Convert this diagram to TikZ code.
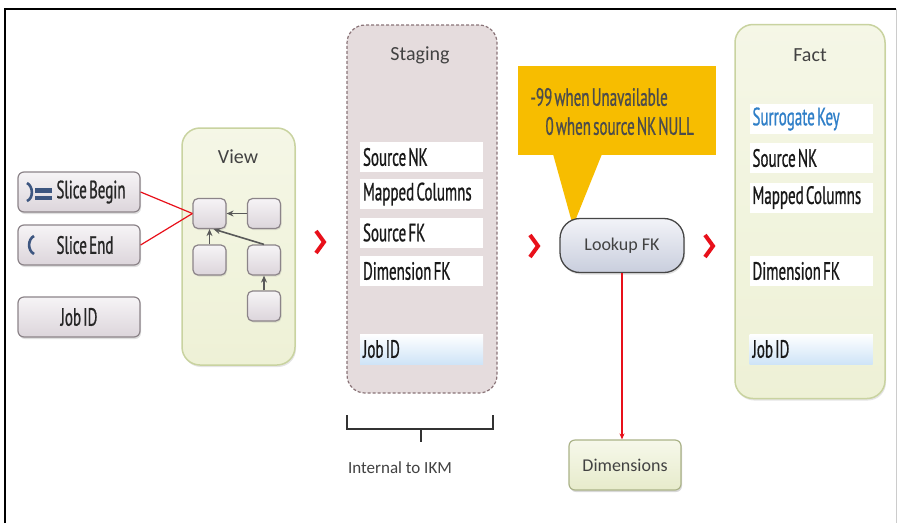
\documentclass[tikz,border=0pt]{standalone}
\usepackage{fontspec}
\setmainfont{Carlito}
\newfontfamily\cond[FakeStretch=0.6,FakeBold=0.8,WordSpace=0.55]{PT Sans}
\newcommand\rtx[1]{\mbox{\spaceskip=0pt\relax #1}}
\usetikzlibrary{shadows,arrows.meta}
\definecolor{keyborder}{HTML}{8C8489}
\definecolor{keytop}{HTML}{F6F4F6}
\definecolor{keybot}{HTML}{DCD5DB}
\definecolor{greenfill}{HTML}{EEF1D6}
\definecolor{greenborder}{HTML}{C9D3A0}
\definecolor{stagefill}{HTML}{E5DCDD}
\definecolor{stageborder}{HTML}{8A7478}
\definecolor{calloutc}{HTML}{F7BD00}
\definecolor{chevred}{HTML}{E8101A}
\definecolor{iconblue}{HTML}{3D5680}
\definecolor{titlegray}{HTML}{424242}
\definecolor{rowblue}{HTML}{CFE4F7}
\definecolor{linkblue}{HTML}{2F7FC8}
\definecolor{pilltop}{HTML}{F2F3F8}
\definecolor{pillbot}{HTML}{C9CEDD}
\tikzset{
  keybox/.style={draw=keyborder, line width=1.2pt, rounded corners=6pt,
    top color=keytop, bottom color=keybot,
    drop shadow={shadow xshift=1pt, shadow yshift=-2pt, opacity=0.25},
    minimum width=122pt, minimum height=40pt, font=\cond\fontsize{25}{26}\selectfont, text=black!85},
  minibox/.style={draw=keyborder, line width=1.2pt, rounded corners=5pt,
    top color=keytop, bottom color=keybot,
    drop shadow={shadow xshift=1pt, shadow yshift=-1.5pt, opacity=0.2},
    minimum width=33pt, minimum height=30pt},
  greenpanel/.style={draw=greenborder, line width=1.5pt, rounded corners=18pt,
    top color=greenfill!60!white, bottom color=greenfill,
    drop shadow={shadow xshift=1pt, shadow yshift=-2pt, opacity=0.2}},
  stagepanel/.style={draw=stageborder, densely dashed, line width=1.2pt,
    rounded corners=18pt, fill=stagefill},
  rowbox/.style={fill=white, minimum height=30pt, text width=117pt, align=left,
    inner xsep=3pt, font=\cond\fontsize{25}{26}\selectfont, text=black!90},
  bluerow/.style={rowbox, top color=white, bottom color=rowblue},
  title/.style={font=\fontsize{20}{22}\selectfont, text=titlegray},
  chev/.style={draw=chevred, line width=4pt, line join=miter, line cap=butt},
  redline/.style={draw=chevred, line width=1.2pt},
  grayarrow/.style={draw=gray!70!black, line width=1.6pt, -{Stealth[length=7pt,width=6pt]}},
  callouttext/.style={font=\cond\fontsize{25}{26}\selectfont, text=black!70, anchor=west},
}
\begin{document}
\begin{tikzpicture}[x=1pt, y=-1pt]
\useasboundingbox (0,0) rectangle (901,523);
\fill[white] (0,0) rectangle (901,523);
% frame
\draw[black, line width=1.6pt] (5,523) -- (5,9) -- (896,9);
\draw[gray!40, line width=1pt] (896,9) -- (896,523);

% left key boxes
\node[keybox] (sb) at (79,192) {\hspace{24pt}Slice Begin};
\node[keybox] (se) at (79,245) {\hspace{12pt}Slice End};
\node[keybox] (job) at (79,317) {Job ID};
% icons
\draw[iconblue, line width=2.6pt] (27,183) .. controls (33,186) and (34,198) .. (27,201);
\fill[iconblue] (35,188) rectangle (52,192.5);
\fill[iconblue] (35,195.5) rectangle (52,200);
\draw[iconblue, line width=2.6pt] (34,236) .. controls (28,239) and (27,250) .. (34,254);

% View panel
\node[greenpanel, minimum width=113pt, minimum height=237pt] (view) at (238.5,246.5) {};
\node[title] (viewt) at (238,157) {View};
\node[minibox] (ma) at (209.5,213.5) {};
\node[minibox] (mb) at (264,213.5) {};
\node[minibox] (mc) at (209.5,260) {};
\node[minibox] (md) at (264,260) {};
\node[minibox] (me) at (264,306) {};
\draw[grayarrow] (mb.west) -- (ma.east);
\draw[grayarrow] (mc.north) -- (ma.south);
\draw[grayarrow] (md.north) -- ([xshift=4pt]ma.south);
\draw[grayarrow] (me.north) -- (md.south);
\draw[redline] (sb.east) -- (ma.west);
\draw[redline] (se.east) -- (ma.west);

% chevrons
\coordinate (c1) at (320,242);
\coordinate (c2) at (534,246);
\coordinate (c3) at (709,246);
\foreach \c in {c1,c2,c3}
  \draw[chev] ([shift={(-4,-11)}]\c) -- ([shift={(4,0)}]\c) -- ([shift={(-4,11)}]\c);

% Staging panel
\node[stagepanel, minimum width=150pt, minimum height=368pt] (stage) at (422,209) {};
\node[title] (staget) at (420,55) {Staging};
\node[rowbox] (s1) at (421.5,157) {\rtx{Source NK}};
\node[rowbox] (s2) at (421.5,194) {\rtx{Mapped Columns}};
\node[rowbox] (s3) at (421.5,232.5) {\rtx{Source FK}};
\node[rowbox] (s4) at (421.5,271) {\rtx{Dimension FK}};
\node[bluerow] (s5) at (421.5,349) {\rtx{Job ID}};
% brace
\coordinate (bl) at (347,415);
\coordinate (br) at (493,415);
\coordinate (bm) at (421,442);
\draw[black!80, line width=1.2pt] (bl) -- ++(0,14) -| (br);
\draw[black!80, line width=1.2pt] (bm |- 0,429) -- (bm);
\node[font=\fontsize{17}{18}\selectfont, text=titlegray] (ikm) at (400,468) {Internal to IKM};

% callout
\fill[calloutc] (518,66) rectangle (716,155);
\fill[calloutc] (553,154) -- (573,226) -- (602,154) -- cycle;
\node[callouttext] (callt1) at (527,97) {-99 when Unavailable};
\node[callouttext] (callt2) at (542,126) {0 when source NK NULL};

% Lookup FK
\node[draw=gray!55!black, line width=1.3pt, rounded corners=20pt,
  top color=pilltop, bottom color=pillbot, minimum width=124pt, minimum height=54pt,
  drop shadow={shadow xshift=1pt, shadow yshift=-2pt, opacity=0.25},
  font=\fontsize{18}{20}\selectfont, text=titlegray] (lookup) at (622,245.5) {Lookup FK};

% Dimensions
\node[draw=greenborder!85!black, line width=1.2pt, rounded corners=6pt,
  top color=greenfill!50!white, bottom color=greenfill!80!greenborder,
  minimum width=112pt, minimum height=50pt,
  drop shadow={shadow xshift=1pt, shadow yshift=-2pt, opacity=0.3},
  font=\fontsize{18}{20}\selectfont, text=titlegray] (dims) at (625,465) {Dimensions};
\draw[redline, -{Stealth[length=6pt,width=5pt]}] (lookup.south) -- (lookup.south |- dims.north);

% Fact panel
\node[greenpanel, minimum width=150pt, minimum height=374pt] (fact) at (810,211.5) {};
\node[title] (factt) at (810,55) {Fact};
\node[rowbox, text=linkblue] (f1) at (811,119) {\rtx{Surrogate Key}};
\node[rowbox] (f2) at (811,158) {\rtx{Source NK}};
\node[rowbox] (f3) at (811,197.5) {\rtx{Mapped Columns}};
\node[rowbox] (f4) at (811,271) {\rtx{Dimension FK}};
\node[bluerow] (f5) at (811,349) {\rtx{Job ID}};
\end{tikzpicture}
\end{document}
